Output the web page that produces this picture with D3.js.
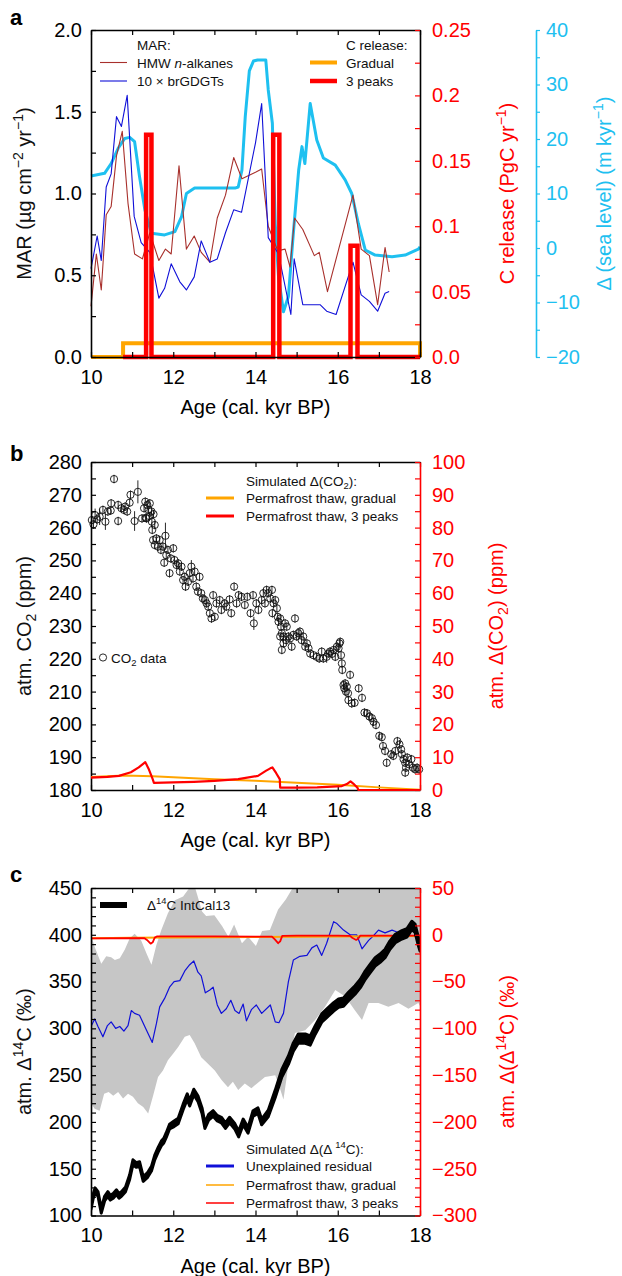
<!DOCTYPE html>
<html><head><meta charset="utf-8">
<script src="https://cdn.jsdelivr.net/npm/d3@7/dist/d3.min.js"></script>
<style>
html,body{margin:0;padding:0;background:#fff;}
svg{display:block;}
</style></head>
<body>
<svg id="chart" width="622" height="1276"></svg>
<script>
// ================= DATA =================
const ageTicks=[10,11,12,13,14,15,16,17,18];
const ageTickLabels=["10","","12","","14","","16","","18"];

// ---- panel a ----
const marTicks=[0,0.25,0.5,0.75,1,1.25,1.5,1.75,2];
const marTickLabels=["0.0","","0.5","","1.0","","1.5","","2.0"];
const relTicks=[0,0.025,0.05,0.075,0.1,0.125,0.15,0.175,0.2,0.225,0.25];
const relTickLabels=["0.0","","0.05","","0.1","","0.15","","0.2","","0.25"];
const seaTicks=[-20,-15,-10,-5,0,5,10,15,20,25,30,35,40];
const seaTickLabels=["\u221220","","\u221210","","0","","10","","20","","30","","40"];

const hmwAge=[10.0,10.13,10.25,10.37,10.49,10.62,10.76,10.90,11.06,11.25,11.43,11.65,11.81,11.95,12.14,12.32,12.51,12.68,12.89,13.07,13.27,13.47,13.67,14.0,14.15,14.31,14.54,14.72,14.84,14.95,15.15,15.43,15.55,15.75,16.37,16.57,16.77,16.97,17.15,17.25];
const hmwMAR=[0.31,0.63,0.41,0.87,0.92,1.23,1.38,0.94,0.63,0.60,0.76,0.59,0.66,0.63,1.17,0.66,0.74,0.64,0.58,0.85,0.99,1.22,1.09,1.13,1.15,0.80,0.65,0.66,0.55,0.85,0.78,0.62,0.64,0.40,0.99,0.66,0.62,0.32,0.67,0.52];
const gdgtAge=[10.0,10.15,10.25,10.37,10.49,10.62,10.74,10.88,11.05,11.22,11.43,11.65,11.79,11.95,12.16,12.32,12.51,12.68,12.89,13.07,13.27,13.47,13.66,14.0,14.15,14.31,14.56,14.86,14.94,15.15,15.57,15.73,15.96,16.37,16.57,16.77,16.97,17.15,17.25];
const gdgtMAR=[0.54,0.74,0.59,1.04,1.12,1.47,1.41,1.60,0.86,0.70,0.64,0.36,0.42,0.57,0.46,0.41,0.49,0.71,0.58,0.60,0.76,0.90,0.885,1.31,1.55,0.73,0.63,0.26,0.60,0.32,0.32,0.28,0.26,0.58,0.38,0.34,0.28,0.39,0.40];
const seaAge=[10.0,10.33,10.49,10.66,10.82,10.94,11.06,11.18,11.31,11.47,11.79,12.04,12.2,12.32,12.52,13.0,13.5,13.58,13.67,13.75,13.85,13.95,14.05,14.25,14.31,14.41,14.48,14.56,14.68,14.8,14.92,15.05,15.13,15.2,15.33,15.49,15.65,15.94,16.18,16.34,16.5,16.67,16.91,17.32,17.64,17.96,18.0];
const seaLevel=[13.2,13.7,15.5,18.3,20.1,20.3,19.5,13.1,7.0,2.7,2.4,3.0,5.7,10.0,11.0,11.0,11.0,11.2,14.3,24,32.5,34.3,34.5,34.5,29,22.9,4.5,-5.3,-11.7,-8.9,2.7,14.3,18.6,15.5,26.5,19.8,16.5,15.2,12.5,10.0,4.5,-0.4,-1.3,-1.6,-1.3,-0.2,0.2];
const relGradualAge=[10,10.78,10.78,18,18];
const relGradual=[0,0,0.0105,0.0105,0];
const relPeaksAge=[10.78,11.34,11.34,11.47,11.47,14.43,14.43,14.58,14.58,16.31,16.31,16.48,16.48,18];
const relPeaks=[0,0,0.17,0.17,0,0,0.17,0.17,0,0,0.085,0.085,0,0];

// ---- panel b ----
const co2Ticks=d3.range(180,281,5);
const co2TickLabels=co2Ticks.map(v=>v%10===0?String(v):"");
const dco2Ticks=d3.range(0,101,5);
const dco2TickLabels=dco2Ticks.map(v=>v%10===0?String(v):"");
const co2Age=[10.02,10.06,10.10,10.15,10.21,10.29,10.35,10.41,10.48,10.49,10.56,10.66,10.66,10.74,10.80,10.83,10.88,10.94,10.96,11.06,11.14,11.24,11.29,11.32,11.33,11.35,11.37,11.40,11.42,11.43,11.47,11.48,11.52,11.55,11.49,11.51,11.55,11.59,11.63,11.67,11.70,11.75,11.81,11.83,11.87,11.91,11.78,11.94,12.00,12.03,12.08,12.12,12.16,12.20,12.24,12.28,12.30,12.36,12.40,12.44,12.48,12.52,12.56,12.60,12.64,12.68,12.72,12.77,12.81,12.85,12.89,12.93,12.97,13.01,13.05,13.13,13.17,13.25,13.29,13.37,13.41,13.48,13.54,13.59,13.66,13.74,13.80,13.88,13.94,13.96,14.02,14.07,14.15,14.19,14.23,14.27,14.31,14.36,14.40,14.41,14.44,14.48,14.52,14.54,14.56,14.60,14.62,14.64,14.68,14.72,14.76,14.60,14.64,14.68,14.74,14.80,14.84,14.88,14.92,14.96,15.00,15.04,15.08,15.12,15.16,15.21,15.25,15.29,15.33,15.41,15.49,15.55,15.61,15.65,15.73,15.77,15.81,15.86,15.90,15.94,15.98,16.02,16.04,16.06,16.08,16.10,16.11,16.14,16.16,16.18,16.20,16.22,16.25,16.26,16.30,16.34,16.41,16.51,16.59,16.65,16.71,16.77,16.83,16.87,16.93,17.01,17.07,17.10,17.15,17.19,17.30,17.35,17.40,17.45,17.50,17.54,17.56,17.60,17.64,17.64,17.66,17.69,17.74,17.79,17.83,17.88,17.93,17.98];
const co2Val=[262.3,261.0,263.8,262.5,263.3,265.4,261.8,264.9,265.2,267.4,274.8,266.9,262.0,265.9,265.4,266.4,264.9,267.6,270.0,262.0,270.9,262.8,265.9,267.9,263.0,262.8,266.9,265.4,263.5,267.4,264.9,261.8,264.1,260.8,259.3,256.2,254.7,256.7,254.2,256.2,253.2,254.2,257.5,251.6,253.2,246.1,249.3,250.6,253.7,250.1,248.6,249.1,246.6,248.1,244.0,245.0,242.0,243.5,246.1,248.1,244.5,246.6,242.0,240.5,245.0,240.0,238.4,237.9,236.9,235.9,233.9,232.3,239.4,232.8,236.9,237.9,234.9,236.9,235.9,238.1,233.9,242.0,236.9,239.4,238.9,236.4,238.9,233.9,239.4,230.8,236.9,234.9,237.9,240.0,236.9,241.0,240.0,238.4,241.0,233.9,236.9,237.9,235.4,232.8,231.3,232.3,229.8,227.8,226.8,230.8,229.8,226.8,222.7,224.7,225.7,226.8,226.2,223.7,227.3,232.3,226.8,227.8,228.3,225.7,226.8,223.7,224.7,223.2,221.6,221.1,220.6,220.1,222.2,220.1,220.6,221.6,222.2,221.5,222.7,220.6,223.7,223.2,224.7,225.2,221.1,218.6,216.6,212.0,211.0,212.5,210.0,211.5,209.5,207.4,215.1,206.4,206.6,211.0,208.1,203.6,203.4,202.4,201.9,200.8,199.8,196.5,196.1,193.4,191.9,188.3,190.9,190.4,191.9,194.9,193.9,192.4,190.9,189.4,188.3,185.3,186.8,189.9,187.8,189.4,186.8,186.3,186.8,186.3];
const co2Err=co2Val.map((v,i)=>{
  const big={2:2.0,4:2.5,6:2.5,19:3,20:3.5,42:4,59:2,89:2,134:1.8};
  return big[i]!==undefined?big[i]:1.3;
});
const dco2GradualAge=[10,10.8,11.5,12,13,14,15,16,17,18];
const dco2Gradual=[4.0,4.4,4.2,3.9,3.3,2.8,2.2,1.6,0.8,0.1];
const dco2PeaksAge=[10,10.4,10.68,10.97,11.16,11.26,11.32,11.4,11.5,11.53,12,12.5,13,13.58,14.06,14.26,14.36,14.41,14.5,14.59,14.6,15,15.5,16.1,16.22,16.31,16.4,16.48,16.5,18];
const dco2Peaks=[3.8,4.0,4.3,5.4,6.9,7.9,8.5,6.5,3.3,2.2,2.3,2.5,2.8,3.3,4.3,5.9,6.6,6.9,5.2,3.3,0.7,0.7,0.8,1.2,1.8,2.6,1.7,0.7,0,0];

// ---- panel c ----
const c14Ticks=d3.range(100,451,10);
const c14TickLabels=c14Ticks.map(v=>v%50===0?String(v):"");
const dc14Ticks=d3.range(-300,51,10);
const dc14TickLabels=dc14Ticks.map(v=>v%50===0?(v<0?"\u2212"+(-v):String(v)):"");
const c14Age=[10.0,10.05,10.1,10.17,10.25,10.33,10.41,10.47,10.54,10.62,10.68,10.74,10.84,10.94,11.02,11.1,11.18,11.27,11.37,11.47,11.55,11.63,11.71,11.77,11.83,11.91,12.02,12.12,12.24,12.34,12.4,12.5,12.6,12.7,12.77,12.86,12.97,13.07,13.17,13.27,13.37,13.5,13.59,13.7,13.82,13.94,14.06,14.15,14.31,14.48,14.64,14.8,14.92,15.04,15.21,15.33,15.45,15.61,15.73,15.9,16.02,16.14,16.26,16.42,16.55,16.67,16.79,16.91,17.03,17.15,17.27,17.4,17.56,17.68,17.8,17.88,17.96,18.0];
const c14Val=[109,120,127,123,105,118,123,119,121,125,121,123,128,141,157,154,155,139,143,150,162,170,177,180,186,195,198,201,216,227,220,232,225,212,196,205,209,204,202,196,202,195,187,200,191,209,212,200,209,230,252,266,280,289,289,287,298,311,316,323,327,328,334,341,348,357,364,371,375,380,389,396,400,402,410,407,393,387];
const c14Err=[2.5,2.5,2.5,2.5,2.5,2.5,2.5,2.5,2.5,2.5,2.5,2.5,2.5,2.5,2.5,2.5,2.5,2.5,2.5,2.5,2.5,2.5,2.5,2.5,2.5,2.5,3,3,3,3,3,3,3,3,3,3,3,3,3,3,3,3,3,3,3,3,3,3,3.5,4,4,4.5,4.5,5,5,5,4.5,4.5,4.5,4.5,4.5,4.5,4.5,4.5,4.5,4.5,4.5,4.5,4.5,4.5,4.5,4.5,4.5,4.5,4.5,4.5,4.5,4.5];
const residAge=[10.0,10.09,10.17,10.29,10.4,10.49,10.6,10.7,10.8,10.9,10.98,11.06,11.18,11.35,11.49,11.59,11.67,11.79,11.91,12.02,12.16,12.29,12.4,12.5,12.6,12.68,12.78,12.89,12.97,13.07,13.17,13.29,13.4,13.5,13.6,13.7,13.78,13.9,14.02,14.15,14.36,14.48,14.57,14.68,14.8,14.92,15.08,15.25,15.37,15.49,15.61,15.73,15.9,15.98,16.14,16.3,16.46,16.59,16.75,16.87,16.99,17.15,17.32,17.44,17.55];
const resid=[302,310,302,291,303,307,300,302,297,303,319,316,314,298,285,305,323,332,344,350,351,362,368,372,360,356,338,341,344,325,316,321,330,319,316,326,308,320,325,316,325,307,306,316,350,373,377,378,386,389,378,391,414,412,405,400,400,385,394,399,405,402,405,403,402];
const bandHiAge=[10.0,10.09,10.25,10.37,10.49,10.58,10.7,10.82,10.94,11.06,11.22,11.35,11.47,11.59,11.71,11.87,12.04,12.24,12.36,12.5,12.6,12.7,12.8,13.0,13.19,13.34,13.48,13.67,13.82,14.01,14.16,14.35,14.55,14.74,14.93,15.2,18.0];
const bandHi=[400,387,369,377,376,373,375,384,396,401,394,380,368,389,405,423,437,441,448,455,440,425,420,421,409,398,411,391,398,388,404,405,427,438,452,470,470];
const bandLoAge=[10.0,10.09,10.21,10.32,10.43,10.54,10.66,10.78,10.9,11.02,11.14,11.27,11.39,11.51,11.63,11.75,11.87,12.0,12.12,12.28,12.4,12.52,12.68,12.85,13.01,13.17,13.33,13.45,13.58,13.74,13.9,14.06,14.23,14.48,14.6,14.68,14.75,14.8,14.96,15.21,15.45,15.69,15.94,16.18,16.42,16.59,16.75,16.99,17.23,17.48,17.72,17.96,18.0];
const bandLo=[220,214,212,230,232,228,232,225,230,227,220,216,209,228,248,255,266,273,280,291,293,284,269,262,255,245,237,243,234,241,236,242,248,250,235,224,245,262,295,298,309,323,341,334,319,309,327,327,323,327,321,327,324];
const dc14GradualAge=[10,11,12,13,14,15,16,17,18];
const dc14Gradual=[-3.6,-3.3,-3.0,-2.7,-2.4,-2.1,-1.8,-1.5,-1.3];
const dc14PeaksAge=[10,11.0,11.3,11.36,11.45,11.5,11.55,11.6,12,13,14,14.4,14.47,14.55,14.6,14.65,15,16,16.3,16.36,16.45,16.5,16.55,17,18];
const dc14Peaks=[-3.8,-3.7,-3.6,-5.5,-9.5,-8,-3,-1.8,-1.8,-1.8,-1.9,-2.0,-5,-9,-7,-1.2,-1.0,-1.0,-1.1,-3.5,-5.5,-4,-0.8,-0.8,-0.8];

// ================= DRAW =================
const FONT='"Liberation Sans", Arial, Helvetica, sans-serif';
const RED="#ff0000", CYAN="#1ec0f0", ORANGE="#ffa500", BROWN="#a8302c", BLUE="#1010d8", GREY="#c6c6c6";
const svg=d3.select("#chart");
const X0=91, X1=420;
const x=d3.scaleLinear().domain([10,18]).range([X0,X1]);
const TS=20, LS=13.5;

function styleAxis(g,color){
  g.attr("font-family",FONT).attr("font-size",TS);
  g.select(".domain").attr("stroke",color).attr("stroke-width",1.6);
  g.selectAll(".tick line").attr("stroke",color).attr("stroke-width",1.2);
  g.selectAll(".tick text").attr("fill",color);
}
function xAxes(top,bottom){
  const fmt=d=>ageTickLabels[ageTicks.indexOf(d)];
  styleAxis(svg.append("g").attr("transform",`translate(0,${bottom})`)
    .call(d3.axisBottom(x).tickValues(ageTicks).tickFormat(fmt).tickSizeInner(-5).tickSizeOuter(0).tickPadding(12.5)),"#000");
  styleAxis(svg.append("g").attr("transform",`translate(0,${top})`)
    .call(d3.axisTop(x).tickValues(ageTicks).tickFormat("").tickSizeInner(-5).tickSizeOuter(0)),"#000");
  svg.append("text").attr("x",(X0+X1)/2).attr("y",bottom+57).attr("text-anchor","middle")
    .attr("font-family",FONT).attr("font-size",TS).text("Age (cal. kyr BP)");
}
function yLeft(y,ticks,labels){
  styleAxis(svg.append("g").attr("transform",`translate(${X0},0)`)
    .call(d3.axisLeft(y).tickValues(ticks).tickFormat(d=>labels[ticks.indexOf(d)]).tickSizeInner(-5).tickSizeOuter(0).tickPadding(9)),"#000");
}
function yRight(y,ticks,labels,color,frameColor){
  const g=svg.append("g").attr("transform",`translate(${X1},0)`)
    .call(d3.axisRight(y).tickValues(ticks).tickFormat(d=>labels[ticks.indexOf(d)]).tickSizeInner(-5).tickSizeOuter(0).tickPadding(12));
  styleAxis(g,color);
  g.select(".domain").attr("stroke",frameColor);
}
function addParts(t,parts,fs){
  let shift=0;
  parts.forEach(p=>{
    const s=t.append("tspan").text(p.t);
    let target=0;
    if(p.sup) target=-fs*0.42;
    if(p.sub) target=fs*0.25;
    s.attr("dy",target-shift); shift=target;
    if(p.sup||p.sub) s.attr("font-size",fs*0.7);
    if(p.it) s.attr("font-style","italic");
  });
}
function vlabel(cx,cy,parts,color){
  const t=svg.append("text").attr("transform",`translate(${cx+7},${cy}) rotate(-90)`)
    .attr("text-anchor","middle").attr("font-family",FONT).attr("font-size",TS).attr("fill",color);
  addParts(t,parts,TS);
}
function htext(xp,yp,parts,fs,color){
  const t=svg.append("text").attr("x",xp).attr("y",yp).attr("font-family",FONT).attr("font-size",fs).attr("fill",color||"#111");
  addParts(t,parts,fs);
  return t;
}
function panelLetter(l,yp){
  svg.append("text").attr("x",10).attr("y",yp).attr("font-family",FONT).attr("font-size",22).attr("font-weight","bold").text(l);
}
const lineGen=(xs,ys)=>d3.line().x(d=>xs(d[0])).y(d=>ys(d[1]));
function drawLine(g,ax,ay,xs,ys,color,w,join){
  return g.append("path").datum(d3.zip(ax,ay)).attr("d",lineGen(xs,ys))
    .attr("fill","none").attr("stroke",color).attr("stroke-width",w).attr("stroke-linejoin",join||"round");
}

// ---------- Panel a ----------
(function(){
  const T=30,B=357;
  const yMar=d3.scaleLinear().domain([0,2]).range([B,T]);
  const yRel=d3.scaleLinear().domain([0,0.25]).range([B,T]);
  const ySea=d3.scaleLinear().domain([-20,40]).range([B,T]);
  panelLetter("a",25);
  const g=svg.append("g");
  drawLine(g,seaAge,seaLevel,x,ySea,CYAN,3);
  drawLine(g,hmwAge,hmwMAR,x,yMar,BROWN,1.1);
  drawLine(g,gdgtAge,gdgtMAR,x,yMar,BLUE,1.1);
  drawLine(g,relGradualAge,relGradual,x,yRel,ORANGE,4,"miter");
  drawLine(g,relPeaksAge,relPeaks,x,yRel,RED,4.5,"miter");
  xAxes(T,B); yLeft(yMar,marTicks,marTickLabels);
  yRight(yRel,relTicks,relTickLabels,RED,"#000");
  const ga=svg.append("g").attr("transform","translate(536,0)")
    .call(d3.axisRight(ySea).tickValues(seaTicks).tickFormat(d=>seaTickLabels[seaTicks.indexOf(d)]).tickSizeInner(4).tickSizeOuter(0).tickPadding(6));
  styleAxis(ga,CYAN);
  vlabel(24,(T+B)/2,[{t:"MAR (\u00b5g cm"},{t:"\u22122",sup:1},{t:" yr"},{t:"\u22121",sup:1},{t:")"}],"#111");
  vlabel(507,(T+B)/2,[{t:"C release (PgC yr"},{t:"\u22121",sup:1},{t:")"}],RED);
  vlabel(604,(T+B)/2,[{t:"\u0394 (sea level) (m kyr"},{t:"\u22121",sup:1},{t:")"}],CYAN);
  htext(137,50,[{t:"MAR:"}],LS);
  svg.append("line").attr("x1",100).attr("x2",127).attr("y1",62.5).attr("y2",62.5).attr("stroke",BROWN).attr("stroke-width",1.1);
  htext(137,67.5,[{t:"HMW "},{t:"n",it:1},{t:"-alkanes"}],LS);
  svg.append("line").attr("x1",100).attr("x2",127).attr("y1",81).attr("y2",81).attr("stroke",BLUE).attr("stroke-width",1.1);
  htext(137,86,[{t:"10 \u00d7 brGDGTs"}],LS);
  htext(346,50,[{t:"C release:"}],LS);
  svg.append("line").attr("x1",310).attr("x2",337).attr("y1",62.5).attr("y2",62.5).attr("stroke",ORANGE).attr("stroke-width",4);
  htext(346,67.5,[{t:"Gradual"}],LS);
  svg.append("line").attr("x1",310).attr("x2",337).attr("y1",81).attr("y2",81).attr("stroke",RED).attr("stroke-width",4.5);
  htext(346,86,[{t:"3 peaks"}],LS);
})();

// ---------- Panel b ----------
(function(){
  const T=462,B=790;
  const yC=d3.scaleLinear().domain([180,280]).range([B,T]);
  const yD=d3.scaleLinear().domain([0,100]).range([B,T]);
  panelLetter("b",461);
  const pts=d3.zip(co2Age,co2Val,co2Err);
  const g=svg.append("g");
  g.selectAll("line.err").data(pts).join("line").attr("class","err")
    .attr("x1",d=>x(d[0])).attr("x2",d=>x(d[0])).attr("y1",d=>yC(d[1]-d[2])).attr("y2",d=>yC(d[1]+d[2]))
    .attr("stroke","#111").attr("stroke-width",0.9);
  g.selectAll("circle").data(pts).join("circle")
    .attr("cx",d=>x(d[0])).attr("cy",d=>yC(d[1])).attr("r",3.6)
    .attr("fill","none").attr("stroke","#111").attr("stroke-width",0.9);
  xAxes(T,B); yLeft(yC,co2Ticks,co2TickLabels);
  yRight(yD,dco2Ticks,dco2TickLabels,RED,RED);
  drawLine(svg,dco2GradualAge,dco2Gradual,x,yD,ORANGE,2);
  drawLine(svg,dco2PeaksAge,dco2Peaks,x,yD,RED,2.2);
  vlabel(24,(T+B)/2,[{t:"atm. CO"},{t:"2",sub:1},{t:" (ppm)"}],"#111");
  vlabel(496,(T+B)/2,[{t:"atm. \u0394(CO"},{t:"2",sub:1},{t:") (ppm)"}],RED);
  htext(246,486,[{t:"Simulated \u0394(CO"},{t:"2",sub:1},{t:"):"}],LS);
  svg.append("line").attr("x1",206).attr("x2",234).attr("y1",498).attr("y2",498).attr("stroke",ORANGE).attr("stroke-width",3);
  htext(246,503,[{t:"Permafrost thaw, gradual"}],LS);
  svg.append("line").attr("x1",206).attr("x2",234).attr("y1",516).attr("y2",516).attr("stroke",RED).attr("stroke-width",3);
  htext(246,521,[{t:"Permafrost thaw, 3 peaks"}],LS);
  svg.append("circle").attr("cx",103).attr("cy",657.5).attr("r",3.6).attr("fill","none").attr("stroke","#111").attr("stroke-width",0.9);
  htext(111,662.5,[{t:"CO"},{t:"2",sub:1},{t:" data"}],LS);
})();

// ---------- Panel c ----------
(function(){
  const T=888,B=1215.5;
  const yL=d3.scaleLinear().domain([100,450]).range([B,T]);
  const yR=d3.scaleLinear().domain([-300,50]).range([B,T]);
  panelLetter("c",882);
  svg.append("clipPath").attr("id","clipc").append("rect").attr("x",X0).attr("y",T).attr("width",X1-X0).attr("height",B-T);
  const g=svg.append("g").attr("clip-path","url(#clipc)");
  const poly=d3.zip(bandHiAge,bandHi).concat(d3.zip(bandLoAge,bandLo).reverse());
  const bandGen=lineGen(x,yL);
  g.append("path").datum(poly).attr("d",d=>bandGen(d)+"Z").attr("fill",GREY).attr("stroke","none");
  drawLine(g,residAge,resid,x,yL,BLUE,1.2);
  drawLine(g,dc14GradualAge,dc14Gradual,x,yR,ORANGE,2);
  drawLine(g,dc14PeaksAge,dc14Peaks,x,yR,RED,1.8);
  const c14=d3.zip(c14Age,c14Val,c14Err);
  g.append("path").datum(c14)
    .attr("d",d3.area().x(d=>x(d[0])).y0(d=>yL(d[1]-d[2])).y1(d=>yL(d[1]+d[2])))
    .attr("fill","#000").attr("stroke","#000").attr("stroke-width",3).attr("stroke-linejoin","round");
  xAxes(T,B); yLeft(yL,c14Ticks,c14TickLabels);
  yRight(yR,dc14Ticks,dc14TickLabels,RED,RED);
  vlabel(24,(T+B)/2,[{t:"atm. \u0394"},{t:"14",sup:1},{t:"C (\u2030)"}],"#111");
  vlabel(507,(T+B)/2,[{t:"atm. \u0394(\u0394"},{t:"14",sup:1},{t:"C) (\u2030)"}],RED);
  svg.append("line").attr("x1",100).attr("x2",127).attr("y1",905).attr("y2",905).attr("stroke","#000").attr("stroke-width",6);
  htext(147,909.5,[{t:"\u0394"},{t:"14",sup:1},{t:"C IntCal13"}],LS);
  htext(246,1154,[{t:"Simulated \u0394(\u0394 "},{t:"14",sup:1},{t:"C):"}],LS);
  svg.append("line").attr("x1",206).attr("x2",234).attr("y1",1166).attr("y2",1166).attr("stroke",BLUE).attr("stroke-width",3);
  htext(246,1171,[{t:"Unexplained residual"}],LS);
  svg.append("line").attr("x1",206).attr("x2",234).attr("y1",1185).attr("y2",1185).attr("stroke",ORANGE).attr("stroke-width",1.5);
  htext(246,1190,[{t:"Permafrost thaw, gradual"}],LS);
  svg.append("line").attr("x1",206).attr("x2",234).attr("y1",1203).attr("y2",1203).attr("stroke",RED).attr("stroke-width",1.5);
  htext(246,1208,[{t:"Permafrost thaw, 3 peaks"}],LS);
})();
</script>
</body></html>
